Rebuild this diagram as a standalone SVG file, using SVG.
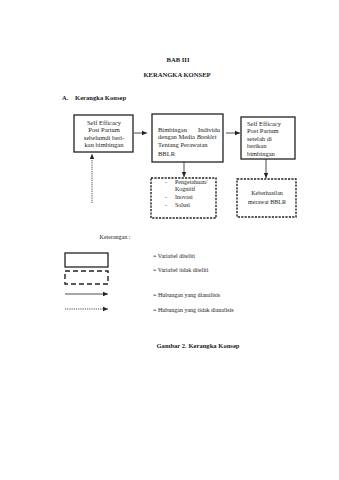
<svg xmlns="http://www.w3.org/2000/svg" width="339" height="480" viewBox="0 0 339 480">
<style>
text{font-family:"Liberation Serif","Times New Roman",serif;fill:#222;}
.t{font-size:6.5px;}
.b{font-weight:bold;font-size:6.6px;}
.s{font-size:6px;}
.box{fill:#fff;stroke:#222;stroke-width:1.3;}
.dbox{fill:#fff;stroke:#222;stroke-width:1.4;stroke-dasharray:2.2,1.2;}
.ldbox{fill:none;stroke:#222;stroke-width:1.4;stroke-dasharray:5,3;}
.ln{stroke:#222;stroke-width:0.8;fill:none;}
.dot{stroke:#222;stroke-width:0.8;fill:none;stroke-dasharray:1.2,1;}
</style>
<defs>
<marker id="ah" markerWidth="6" markerHeight="6" refX="5" refY="3" orient="auto" markerUnits="userSpaceOnUse">
<path d="M0,0.8 L5,3 L0,5.2 Z" fill="#222"/>
</marker>
</defs>
<rect width="339" height="480" fill="#fff"/>
<text class="b" x="178" y="62" text-anchor="middle">BAB III</text>
<text class="b" x="177" y="77" text-anchor="middle">KERANGKA KONSEP</text>
<text class="b" x="62" y="100">A.</text>
<text class="b" x="75" y="100">Kerangka  Konsep</text>

<g id="connectors">
<line class="ln" x1="134" y1="133" x2="147" y2="133" marker-end="url(#ah)"/>
<line class="ln" x1="226" y1="133" x2="240" y2="133" marker-end="url(#ah)"/>
<line class="ln" x1="184" y1="162" x2="184" y2="177" marker-end="url(#ah)"/>
<line class="ln" x1="266" y1="159" x2="266" y2="178" marker-end="url(#ah)"/>
<line class="dot" x1="92" y1="203" x2="92" y2="154" marker-end="url(#ah)"/>
</g>

<g id="n1">
<rect class="box" x="74" y="115" width="59" height="37"/>
<text class="t" x="104" y="125" text-anchor="middle">Self Efficacy</text>
<text class="t" x="104" y="132" text-anchor="middle">Post Partum</text>
<text class="t" x="104" y="140" text-anchor="middle">sebelumdi beri-</text>
<text class="t" x="104" y="147" text-anchor="middle">kan bimbingan</text>
</g>
<g id="n2">
<rect class="box" x="152" y="114" width="71" height="48"/>
<text class="t" x="158" y="132">Bimbingan <tspan x="198">Individu</tspan></text>
<text class="t" x="158" y="139">dengan Media <tspan font-style="italic">Booklet</tspan></text>
<text class="t" x="158" y="147">Tentang Perawatan</text>
<text class="t" x="158" y="156">BBLR</text>
</g>
<g id="n3">
<rect class="box" x="241" y="117" width="54" height="42"/>
<text class="t" x="247" y="126">Self Efficacy</text>
<text class="t" x="247" y="133">Post Partum</text>
<text class="t" x="247" y="141">setelah di</text>
<text class="t" x="247" y="148">berikan</text>
<text class="t" x="247" y="156">bimbingan</text>
</g>
<g id="n4">
<rect class="dbox" x="151" y="178" width="65" height="40"/>
<text class="s" x="165" y="184">-</text>
<text class="s" x="175" y="184">Pengetahuan/</text>
<text class="s" x="175" y="191">Kognitif</text>
<text class="s" x="165" y="199">-</text>
<text class="s" x="175" y="199">Inovasi</text>
<text class="s" x="165" y="207">-</text>
<text class="s" x="175" y="207">Solusi</text>
</g>
<g id="n5">
<rect class="dbox" x="237" y="179" width="59" height="38"/>
<text class="s" x="267" y="195" text-anchor="middle">Keberhasilan</text>
<text class="s" x="267" y="204" text-anchor="middle">merawat BBLR</text>
</g>

<g id="legend">
<text class="s" x="115" y="239" text-anchor="middle">Keterangan :</text>
<rect class="box" x="65" y="253" width="43" height="14" fill="none"/>
<rect class="ldbox" x="65" y="271" width="43" height="13"/>
<line class="ln" x1="65" y1="294" x2="108" y2="294" marker-end="url(#ah)"/>
<line class="dot" x1="65" y1="309" x2="108" y2="309" marker-end="url(#ah)"/>
<text class="s" x="153" y="258">= Variabel diteliti</text>
<text class="s" x="153" y="272">= Variabel tidak diteliti</text>
<text class="s" x="153" y="297">= Hubungan yang dianalisis</text>
<text class="s" x="153" y="312">= Hubungan yang tidak dianalisis</text>
</g>

<text class="b" x="198" y="348" text-anchor="middle">Gambar 2. Kerangka  Konsep</text>
</svg>
